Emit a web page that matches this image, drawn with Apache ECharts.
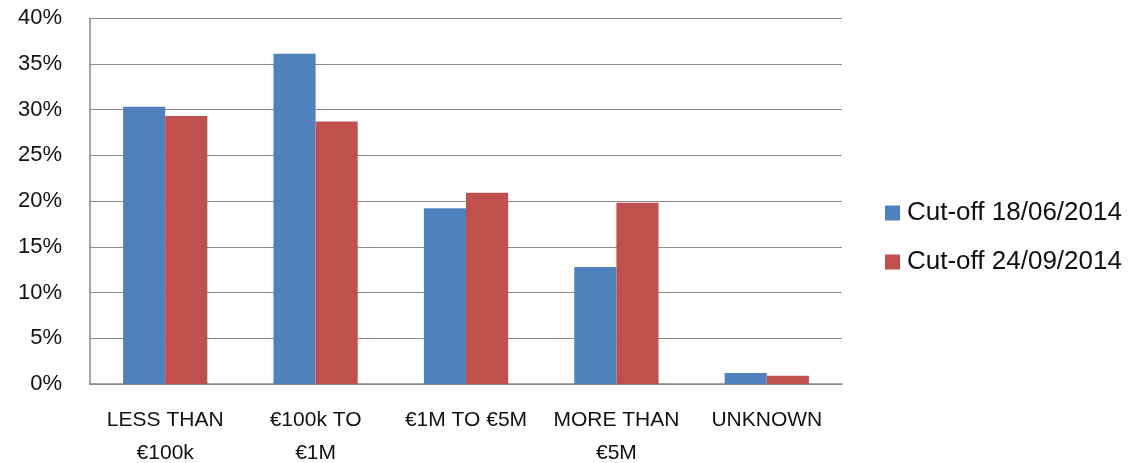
<!DOCTYPE html>
<html>
<head>
<meta charset="utf-8">
<script src="https://cdn.jsdelivr.net/npm/echarts@6/dist/echarts.min.js"></script>
<style>
html,body{margin:0;padding:0;background:#fff;}
#chart{width:1130px;height:463px;}
</style>
</head>
<body>
<div id="chart"></div>
<script>
const categories = ["LESS THAN\n€100k", "€100k TO\n€1M", "€1M TO €5M", "MORE THAN\n€5M", "UNKNOWN"];
const seriesNames = ["Cut-off 18/06/2014", "Cut-off 24/09/2014"];
const cutoff1 = [30.3, 36.1, 19.2, 12.8, 1.2];
const cutoff2 = [29.3, 28.7, 20.9, 19.8, 0.9];
const yTicks = [0, 5, 10, 15, 20, 25, 30, 35, 40];

const FONT = "'Liberation Sans', Arial, sans-serif";
const chart = echarts.init(document.getElementById('chart'), null, {renderer: 'canvas'});
chart.setOption({
  animation: false,
  backgroundColor: '#ffffff',
  textStyle: {fontFamily: FONT},
  grid: {left: 90, right: 288, top: 18, bottom: 79, containLabel: false, outerBoundsMode: 'none'},
  legend: {
    orient: 'vertical',
    left: 880,
    top: 195,
    itemWidth: 15,
    itemHeight: 15,
    itemGap: 23,
    icon: 'rect',
    textStyle: {fontFamily: FONT, fontSize: 26, color: '#111111', lineHeight: 26, padding: [0, 0, 0, 2]},
    data: seriesNames
  },
  xAxis: {
    type: 'category',
    data: categories,
    axisLine: {show: true, lineStyle: {color: '#888888', width: 1.5}},
    axisTick: {show: false},
    axisLabel: {interval: 0, fontFamily: FONT, fontSize: 21, color: '#111111', margin: 20, lineHeight: 33}
  },
  yAxis: {
    type: 'value',
    min: yTicks[0],
    max: yTicks[yTicks.length - 1],
    interval: 5,
    axisLine: {show: true, lineStyle: {color: '#888888', width: 1.5}},
    axisTick: {show: false},
    splitLine: {show: true, lineStyle: {color: '#8c8c8c', width: 1.2}},
    axisLabel: {fontFamily: FONT, fontSize: 22, color: '#111111', margin: 28, formatter: v => v + '%'}
  },
  series: [
    {name: seriesNames[0], type: 'bar', data: cutoff1, barGap: '0%', barCategoryGap: '44%',
     itemStyle: {color: '#4f81bd'}},
    {name: seriesNames[1], type: 'bar', data: cutoff2, barGap: '0%', barCategoryGap: '44%',
     itemStyle: {color: '#c0504d'}}
  ]
});
</script>
</body>
</html>
